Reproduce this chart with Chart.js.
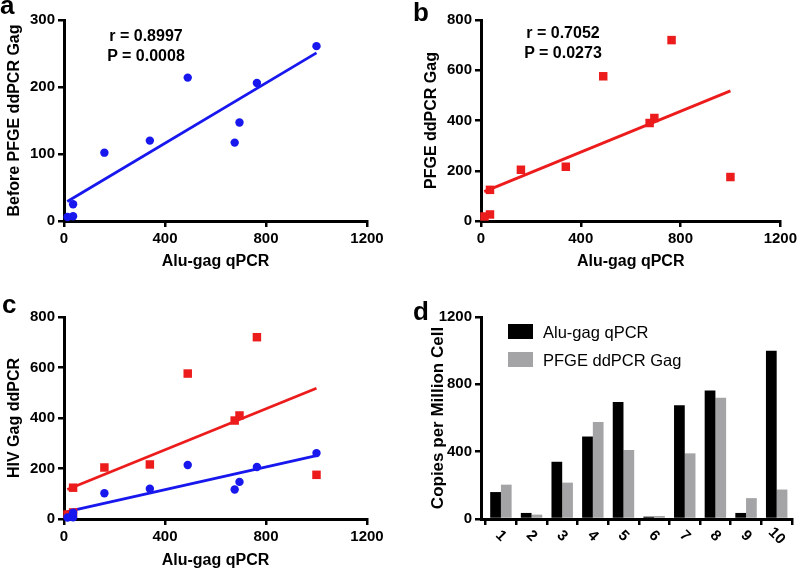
<!DOCTYPE html>
<html>
<head>
<meta charset="utf-8">
<script src="https://cdn.jsdelivr.net/npm/chart.js@4.4.0/dist/chart.umd.min.js"></script>
<style>
  html, body { margin:0; padding:0; background:#fff; }
  body { width:800px; height:570px; position:relative; overflow:hidden; font-family:'Liberation Sans', Arial, sans-serif; }
  canvas { position:absolute; }
  .letter { position:absolute; font-weight:bold; font-size:26px; line-height:1; color:#000; }
  .stats { position:absolute; width:140px; text-align:center; font-weight:bold; font-size:16px; line-height:20px; color:#000; }
  .leg { position:absolute; font-size:16.5px; line-height:20px; color:#000; white-space:nowrap; }
  .sw { position:absolute; width:25px; height:15px; }
</style>
</head>
<body>
<canvas id="cA" width="400" height="285" style="left:0;top:0"></canvas>
<canvas id="cB" width="400" height="285" style="left:400px;top:0"></canvas>
<canvas id="cC" width="400" height="285" style="left:0;top:285px"></canvas>
<canvas id="cD" width="400" height="285" style="left:400px;top:285px"></canvas>

<div class="letter" style="left:0;top:-8px">a</div>
<div class="letter" style="left:413px;top:-1px">b</div>
<div class="letter" style="left:2px;top:291px">c</div>
<div class="letter" style="left:413px;top:298px">d</div>

<div class="stats" id="statsA" style="left:76px;top:26px"></div>
<div class="stats" id="statsB" style="left:493px;top:23px"></div>

<div class="sw" id="swA" style="left:508px;top:324px"></div>
<div class="sw" id="swB" style="left:508px;top:352px"></div>
<div class="leg" id="legA" style="left:543px;top:322px"></div>
<div class="leg" id="legB" style="left:543px;top:350px"></div>

<script>
// ---------- data ----------
const samples = ['1','2','3','4','5','6','7','8','9','10'];
const aluGag = [160, 36, 340, 490, 695, 14, 676, 764, 36, 1000];        // Alu-gag qPCR
const pfgeGag = [204, 26, 216, 576, 410, 18, 390, 720, 124, 175];       // PFGE ddPCR Gag
const beforePfgeGag = [102, 7, 120, 214, 147, 6, 117, 206, 25, 261];    // Before PFGE ddPCR Gag
const fitX = [13, 1000];
const fitBeforeY = [29, 251];
const fitPfgeY = [117, 518];
const statsA = ['r = 0.8997', 'P = 0.0008'];
const statsB = ['r = 0.7052', 'P = 0.0273'];
const xTicksScatter = [0, 400, 800, 1200];
const yTicksA = [0, 100, 200, 300];
const yTicksB = [0, 200, 400, 600, 800];
const yTicksD = [0, 400, 800, 1200];
const seriesNames = ['Alu-gag qPCR', 'PFGE ddPCR Gag'];

// ---------- styles ----------
const BLUE = '#1717ee';
const RED = '#ec1c1c';
const GRAY = '#a4a4a6';
const FONT = "'Liberation Sans', Arial, sans-serif";
Chart.defaults.font.family = FONT;
Chart.defaults.color = '#000';
const tickFont = { family: FONT, size: 15, weight: 'bold' };
const titleFont = { family: FONT, size: 16, weight: 'bold' };
const plain = v => String(v);

document.getElementById('statsA').innerHTML = statsA.join('<br>');
document.getElementById('statsB').innerHTML = statsB.join('<br>');
document.getElementById('legA').textContent = seriesNames[0];
document.getElementById('legB').textContent = seriesNames[1];
document.getElementById('swA').style.background = '#000';
document.getElementById('swB').style.background = GRAY;

const pts = (xs, ys) => xs.map((x, i) => ({ x, y: ys[i] }));

function axisGrid() {
  return { drawOnChartArea: false, drawTicks: true, tickLength: 6, color: '#000', lineWidth: 2.5 };
}
function border() { return { display: true, color: '#000', width: 3 }; }

function yScale(ticks, title, width, titlePad, titleSize) {
  return {
    type: 'linear', min: ticks[0], max: ticks[ticks.length - 1],
    afterBuildTicks: s => { s.ticks = ticks.map(v => ({ value: v })); },
    ticks: { font: tickFont, color: '#000', padding: 3, callback: plain },
    grid: axisGrid(), border: border(),
    title: { display: true, text: title, color: '#000',
             font: Object.assign({}, titleFont, { size: titleSize || 16 }),
             padding: { top: titlePad, bottom: 0 } },
    afterFit: s => { s.width = width; }
  };
}
function xScaleScatter(height, titlePad) {
  return {
    type: 'linear', position: 'bottom', min: 0, max: 1200,
    afterBuildTicks: s => { s.ticks = xTicksScatter.map(v => ({ value: v })); },
    ticks: { font: tickFont, color: '#000', padding: 3, maxRotation: 0, callback: plain },
    grid: axisGrid(), border: border(),
    title: { display: true, text: 'Alu-gag qPCR', color: '#000', font: titleFont,
             padding: { top: 0, bottom: titlePad } },
    afterFit: s => { s.height = height; }
  };
}
function baseOpts(padding, scales) {
  return {
    responsive: false, animation: false, devicePixelRatio: 1,
    layout: { padding },
    plugins: { legend: { display: false }, tooltip: { enabled: false } },
    scales
  };
}
function blueDots(ys) {
  return { type: 'scatter', data: pts(aluGag, ys), backgroundColor: BLUE, borderWidth: 0,
           pointStyle: 'circle', pointRadius: 4.2, clip: false };
}
function redSquares(ys) {
  return { type: 'scatter', data: pts(aluGag, ys), backgroundColor: RED, borderWidth: 0,
           pointStyle: 'rect', pointRadius: 6, clip: false };
}
function fitLine(ys, color) {
  return { type: 'line', data: pts(fitX, ys), borderColor: color, borderWidth: 2.8,
           pointRadius: 0, fill: false, showLine: true, clip: false };
}

// a
new Chart(document.getElementById('cA'), {
  type: 'scatter',
  data: { datasets: [ blueDots(beforePfgeGag), fitLine(fitBeforeY, BLUE) ] },
  options: baseOpts({ left: 0, top: 20, right: 33, bottom: 0 }, {
    x: xScaleScatter(64, 14),
    y: yScale(yTicksA, 'Before PFGE ddPCR Gag', 64, 5)
  })
});

// b
new Chart(document.getElementById('cB'), {
  type: 'scatter',
  data: { datasets: [ redSquares(pfgeGag), fitLine(fitPfgeY, RED) ] },
  options: baseOpts({ left: 0, top: 20, right: 16, bottom: 0 }, {
    x: xScaleScatter(64, 14),
    y: yScale(yTicksB, 'PFGE ddPCR Gag', 81, 22)
  })
});

// c
new Chart(document.getElementById('cC'), {
  type: 'scatter',
  data: { datasets: [ blueDots(beforePfgeGag), redSquares(pfgeGag),
                      fitLine(fitBeforeY, BLUE), fitLine(fitPfgeY, RED) ] },
  options: baseOpts({ left: 0, top: 32, right: 33, bottom: 0 }, {
    x: xScaleScatter(51, 0),
    y: yScale(yTicksB, 'HIV Gag ddPCR', 64, 5)
  })
});

// d
const rotatedLabels = {
  id: 'rotatedLabels',
  afterDraw(chart) {
    const s = chart.scales.x, ctx = chart.ctx;
    ctx.save();
    ctx.font = 'bold 15px ' + FONT;
    ctx.fillStyle = '#000';
    ctx.textAlign = 'center';
    ctx.textBaseline = 'middle';
    samples.forEach((lab, i) => {
      const x = s.getPixelForValue(i + 1);
      ctx.save();
      ctx.translate(x, s.top + 17);
      ctx.rotate(Math.PI / 4);
      ctx.fillText(lab, 0, 0);
      ctx.restore();
    });
    ctx.restore();
  }
};
new Chart(document.getElementById('cD'), {
  type: 'bar',
  data: {
    datasets: [
      { label: seriesNames[0], data: pts(samples.map((_, i) => i + 1), aluGag), backgroundColor: '#000',
        categoryPercentage: 0.7, barPercentage: 1.0 },
      { label: seriesNames[1], data: pts(samples.map((_, i) => i + 1), pfgeGag), backgroundColor: GRAY,
        categoryPercentage: 0.7, barPercentage: 1.0 }
    ]
  },
  options: baseOpts({ left: 0, top: 32, right: 8, bottom: 0 }, {
    x: {
      type: 'linear', min: 0.35, max: 10.5, offset: false,
      afterBuildTicks: s => { s.ticks = samples.map((_, i) => ({ value: i + 1 })); },
      ticks: { display: false },
      grid: axisGrid(), border: border(),
      afterFit: s => { s.height = 51; }
    },
    y: yScale(yTicksD, 'Copies per Million Cell', 81, 28, 17)
  }),
  plugins: [rotatedLabels]
});
</script>
</body>
</html>
